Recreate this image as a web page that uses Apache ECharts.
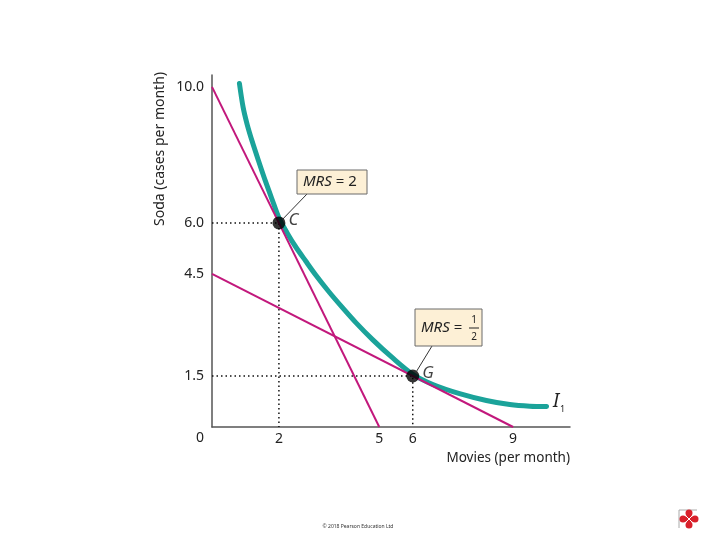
<!DOCTYPE html>
<html>
<head>
<meta charset="utf-8">
<script src="https://cdn.jsdelivr.net/npm/echarts@6/dist/echarts.min.js"></script>
<style>html,body{margin:0;padding:0;background:#fff;}#c{width:720px;height:540px;}</style>
</head>
<body>
<div id="c"></div>
<script>
// ---- data ----
const indifferenceCurve = [[0.82,10.1],[0.93,9.4],[1.05,8.9],[1.2,8.4],[1.4,7.8],[1.6,7.22],[1.8,6.68],[2.0,6.15],[2.25,5.7],[2.5,5.3],[2.8,4.88],[3.1,4.47],[3.5,3.97],[3.9,3.51],[4.3,3.07],[4.8,2.57],[5.4,2.03],[6.0,1.55],[6.6,1.25],[7.4,0.98],[8.2,0.78],[8.9,0.66],[9.5,0.61],[10.0,0.6]];
const budgetLineSteep = [[0,10],[5,0]];
const budgetLineFlat = [[0,4.5],[9,0]];
const pointC = [2,6];
const pointG = [6,1.5];
const xTickLabels = [2,5,6,9];
const yTickLabels = [10,6,4.5,1.5];
const pointNames = ['C','G'];

const FONT = 'Noto Sans';
const chart = echarts.init(document.getElementById('c'), null, {renderer:'canvas'});

const dotC = [[0,pointC[1]],[pointC[0],pointC[1]],[pointC[0],0]];
const dotG = [[0,pointG[1]],[pointG[0],pointG[1]],[pointG[0],0]];

chart.setOption({
  animation:false,
  grid:{left:212, top:75, width:358, height:352},
  xAxis:{type:'value', min:0, max:10.7, interval:1,
    axisLine:{lineStyle:{color:'#555', width:1.5}}, axisTick:{show:false}, splitLine:{show:false},
    axisLabel:{margin:5, color:'#222', fontFamily:FONT, fontSize:14,
      formatter:v=>xTickLabels.includes(v)?String(v):''}},
  yAxis:{type:'value', min:0, max:10.35, interval:0.5,
    axisLine:{lineStyle:{color:'#555', width:1.5}}, axisTick:{show:false}, splitLine:{show:false},
    axisLabel:{margin:8, color:'#222', fontFamily:FONT, fontSize:14,
      formatter:v=>yTickLabels.includes(v)?v.toFixed(1):''}},
  series:[
    {type:'line', data:dotC, symbol:'none', lineStyle:{color:'#111', width:1.5, type:[1.5,3]}, z:1},
    {type:'line', data:dotG, symbol:'none', lineStyle:{color:'#111', width:1.5, type:[1.5,3]}, z:1},
    {type:'line', data:indifferenceCurve, symbol:'none', smooth:0.3,
      lineStyle:{color:'#1ba39a', width:5, cap:'round', join:'round'}, z:2},
    {type:'line', data:budgetLineSteep, symbol:'none', lineStyle:{color:'#c2187c', width:2}, z:3},
    {type:'line', data:budgetLineFlat, symbol:'none', lineStyle:{color:'#c2187c', width:2}, z:3},
    {type:'scatter', data:[pointC, pointG], symbolSize:13, itemStyle:{color:'#000'}, z:5,
      label:{show:true, position:'right', distance:3, offset:[0,-3], color:'#111', fontFamily:FONT, fontSize:17, fontStyle:'italic',
        formatter:p=>pointNames[p.dataIndex]}}
  ]
});

const pc = chart.convertToPixel({gridIndex:0}, pointC);
const pg = chart.convertToPixel({gridIndex:0}, pointG);
const box = {fill:'#fdf0d6', stroke:'#6a6a6a', lineWidth:1};

chart.setOption({graphic:[
  // MRS = 2
  {type:'line', shape:{x1:307, y1:194, x2:pc[0]+4, y2:pc[1]-4}, style:{stroke:'#333', lineWidth:1}},
  {type:'rect', shape:{x:297, y:170, width:70, height:24}, style:box},
  {type:'text', x:303, y:182, style:{rich:{i:{fontStyle:'italic', fontFamily:FONT, fontSize:15, fill:'#222'}, n:{fontFamily:FONT, fontSize:15, fill:'#222'}}, text:'{i|MRS}{n| = 2}', verticalAlign:'middle'}},
  // MRS = 1/2
  {type:'line', shape:{x1:432, y1:346, x2:pg[0]+4, y2:pg[1]-5}, style:{stroke:'#333', lineWidth:1}},
  {type:'rect', shape:{x:415, y:309, width:67, height:37}, style:box},
  {type:'text', x:421, y:328, style:{rich:{i:{fontStyle:'italic', fontFamily:FONT, fontSize:15, fill:'#222'}, n:{fontFamily:FONT, fontSize:15, fill:'#222'}}, text:'{i|MRS}{n| =}', verticalAlign:'middle'}},
  {type:'text', x:474, y:320, style:{text:'1', fill:'#222', font:'10px "'+FONT+'"', align:'center', verticalAlign:'middle'}},
  {type:'line', shape:{x1:469, y1:328, x2:479, y2:328}, style:{stroke:'#222', lineWidth:1}},
  {type:'text', x:474, y:337, style:{text:'2', fill:'#222', font:'10px "'+FONT+'"', align:'center', verticalAlign:'middle'}},
  // I1 label
  {type:'text', x:553, y:402, style:{text:'I', fill:'#222', font:'italic 19px "'+FONT+'"', verticalAlign:'middle'}},
  {type:'text', x:560, y:409, style:{text:'1', fill:'#222', font:'9px "'+FONT+'"', verticalAlign:'middle'}},
  // origin label
  {type:'text', x:200, y:438, style:{text:'0', fill:'#222', font:'14px "'+FONT+'"', align:'center', verticalAlign:'middle'}},
  // axis titles
  {type:'text', x:570, y:458, style:{text:'Movies (per month)', fill:'#222', font:'13.5px "'+FONT+'"', align:'right', verticalAlign:'middle'}},
  {type:'text', x:160, y:149, rotation:Math.PI/2, style:{text:'Soda (cases per month)', fill:'#222', font:'14px "'+FONT+'"', align:'center', verticalAlign:'middle'}},
  // footer
  {type:'text', x:358, y:527, style:{text:'© 2018 Pearson Education Ltd', fill:'#333', font:'5px "'+FONT+'"', align:'center', verticalAlign:'middle'}},
  // logo
  {type:'polyline', shape:{points:[[679,528],[679,510],[697,510]]}, style:{stroke:'#aaa', lineWidth:1, fill:null}},
  {type:'circle', shape:{cx:689, cy:513, r:3.5}, style:{fill:'#d9202a'}},
  {type:'circle', shape:{cx:689, cy:525, r:3.5}, style:{fill:'#d9202a'}},
  {type:'circle', shape:{cx:683, cy:519, r:3.5}, style:{fill:'#d9202a'}},
  {type:'circle', shape:{cx:695, cy:519, r:3.5}, style:{fill:'#d9202a'}},
  {type:'circle', shape:{cx:689, cy:519, r:4}, style:{fill:'#d9202a'}},
  {type:'line', shape:{x1:686, y1:516, x2:692, y2:522}, style:{stroke:'#fff', lineWidth:1}},
  {type:'line', shape:{x1:692, y1:516, x2:686, y2:522}, style:{stroke:'#fff', lineWidth:1}}
]});
</script>
</body>
</html>
